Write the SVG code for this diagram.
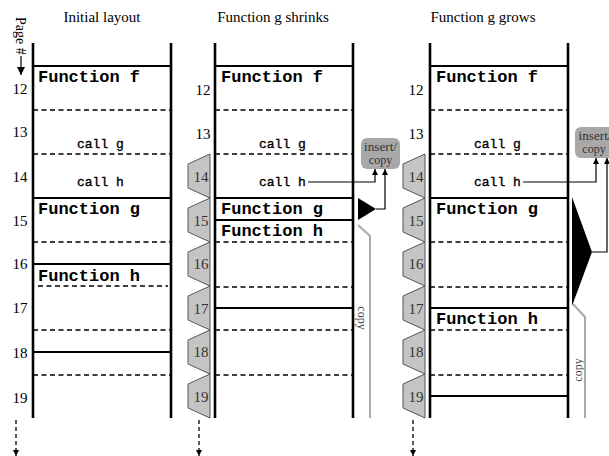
<svg xmlns="http://www.w3.org/2000/svg" width="609" height="456" viewBox="0 0 609 456">
  <style>
    .wall { stroke: #000; stroke-width: 2.6; fill: none; }
    .solid { stroke: #000; stroke-width: 2; fill: none; }
    .dash { stroke: #000; stroke-width: 1.4; stroke-dasharray: 5 3.5; fill: none; }
    .fn { font-family: "Liberation Mono", "Courier New", monospace; font-weight: bold; font-size: 17px; fill: #000; }
    .call { font-family: "Liberation Mono", "Courier New", monospace; font-size: 13px; fill: #000; stroke: #000; stroke-width: 0.35; }
    .num { font-family: "Liberation Serif", "Times New Roman", serif; font-size: 15px; fill: #000; text-anchor: middle; }
    .tabnum { font-family: "Liberation Serif", "Times New Roman", serif; font-size: 15px; fill: #333; text-anchor: middle; }
    .title { font-family: "Liberation Serif", "Times New Roman", serif; font-size: 15px; fill: #000; text-anchor: middle; }
    .tab { fill: #c4c4c4; stroke: #555; stroke-width: 1; }
    .box { fill: #a8a8a8; }
    .boxt { font-family: "Liberation Serif", "Times New Roman", serif; font-size: 12px; fill: #333; text-anchor: middle; }
    .copyt { font-family: "Liberation Serif", "Times New Roman", serif; font-size: 12px; fill: #444; text-anchor: middle; }
    .link { stroke: #000; stroke-width: 1.2; fill: none; }
    .gray { stroke: #aaa; stroke-width: 2; fill: none; }
    .down { stroke: #000; stroke-width: 1.3; stroke-dasharray: 4 3; fill: none; }
  </style>
  <defs>
    <marker id="tip" viewBox="0 0 6 6" refX="6" refY="3" markerWidth="6" markerHeight="6" markerUnits="userSpaceOnUse" orient="auto">
      <path d="M0,0 L6,3 L0,6 Z" fill="#000"/>
    </marker>
    <marker id="tipBig" viewBox="0 0 8 8" refX="8" refY="4" markerWidth="8" markerHeight="8" markerUnits="userSpaceOnUse" orient="auto">
      <path d="M0,0 L8,4 L0,8 Z" fill="#000"/>
    </marker>
    <!-- page tab: long edge against the column wall, notched on the left -->
    <path id="tab" d="M23,0 L1,10 L1,34 L23,44 Z"/>
  </defs>

  <!-- column headings -->
  <text class="title" x="102" y="22">Initial layout</text>
  <text class="title" x="273" y="22">Function g shrinks</text>
  <text class="title" x="483" y="22">Function g grows</text>

  <!-- page axis label -->
  <g id="page-axis">
    <text transform="translate(16,17) rotate(90)" font-family="Liberation Serif, Times New Roman, serif" font-size="14">Page #</text>
    <line x1="21" y1="56" x2="21" y2="75" class="link" marker-end="url(#tipBig)"/>
  </g>

  <!-- ===== Initial layout ===== -->
  <g id="initial">
    <g id="initial-frame">
      <line class="wall" x1="33" y1="43" x2="33" y2="418"/>
      <line class="wall" x1="171" y1="43" x2="171" y2="418"/>
      <line class="solid" x1="33" y1="66" x2="171" y2="66"/>
      <line class="dash" x1="33" y1="110" x2="171" y2="110"/>
      <line class="dash" x1="33" y1="154" x2="171" y2="154"/>
      <line class="solid" x1="33" y1="198" x2="171" y2="198"/>
      <line class="dash" x1="33" y1="242" x2="171" y2="242"/>
      <line class="solid" x1="33" y1="264" x2="171" y2="264"/>
      <line class="dash" x1="38" y1="286" x2="168" y2="286"/>
      <line class="dash" x1="33" y1="330" x2="171" y2="330"/>
      <line class="solid" x1="33" y1="352" x2="171" y2="352"/>
      <line class="dash" x1="33" y1="375" x2="171" y2="375"/>
    </g>
    <g id="initial-pages">
      <text class="num" x="20" y="94">12</text>
      <text class="num" x="20" y="137">13</text>
      <text class="num" x="20" y="182">14</text>
      <text class="num" x="20" y="226">15</text>
      <text class="num" x="20" y="269">16</text>
      <text class="num" x="20" y="313">17</text>
      <text class="num" x="20" y="358">18</text>
      <text class="num" x="20" y="403">19</text>
    </g>
    <g id="initial-f"><text class="fn" x="38" y="82">Function f</text></g>
    <g id="initial-call-g"><text class="call" x="77" y="148">call g</text></g>
    <g id="initial-call-h"><text class="call" x="77" y="186">call h</text></g>
    <g id="initial-g"><text class="fn" x="38" y="214">Function g</text></g>
    <g id="initial-h"><text class="fn" x="38" y="281">Function h</text></g>
  </g>

  <!-- ===== Function g shrinks ===== -->
  <g id="shrink">
    <g id="shrink-frame">
      <line class="wall" x1="215" y1="43" x2="215" y2="418"/>
      <line class="wall" x1="353" y1="43" x2="353" y2="418"/>
      <line class="solid" x1="215" y1="66" x2="353" y2="66"/>
      <line class="dash" x1="215" y1="110" x2="353" y2="110"/>
      <line class="dash" x1="215" y1="154" x2="353" y2="154"/>
      <line class="solid" x1="215" y1="198" x2="353" y2="198"/>
      <line class="solid" x1="215" y1="220" x2="353" y2="220"/>
      <line class="dash" x1="215" y1="242" x2="353" y2="242"/>
      <line class="dash" x1="215" y1="287" x2="353" y2="287"/>
      <line class="solid" x1="215" y1="308" x2="353" y2="308"/>
      <line class="dash" x1="215" y1="330" x2="353" y2="330"/>
      <line class="dash" x1="215" y1="375" x2="353" y2="375"/>
    </g>
    <g id="shrink-pages">
      <text class="num" x="203" y="95">12</text>
      <text class="num" x="203" y="139">13</text>
      <use href="#tab" class="tab" x="187" y="154"/>
      <use href="#tab" class="tab" x="187" y="198"/>
      <use href="#tab" class="tab" x="187" y="242"/>
      <use href="#tab" class="tab" x="187" y="286"/>
      <use href="#tab" class="tab" x="187" y="330"/>
      <use href="#tab" class="tab" x="187" y="374"/>
      <text class="tabnum" x="201" y="182">14</text>
      <text class="tabnum" x="201" y="226">15</text>
      <text class="tabnum" x="201" y="269">16</text>
      <text class="tabnum" x="201" y="314">17</text>
      <text class="tabnum" x="201" y="357">18</text>
      <text class="tabnum" x="201" y="402">19</text>
    </g>
    <g id="shrink-f"><text class="fn" x="221" y="82">Function f</text></g>
    <g id="shrink-call-g"><text class="call" x="259" y="148">call g</text></g>
    <g id="shrink-call-h"><text class="call" x="259" y="186">call h</text></g>
    <g id="shrink-g"><text class="fn" x="221" y="214">Function g</text></g>
    <g id="shrink-h"><text class="fn" x="221" y="236">Function h</text></g>
    <g id="shrink-insert">
      <rect class="box" x="361" y="138" width="39" height="31" rx="6"/>
      <text class="boxt" x="380.5" y="151" textLength="33" lengthAdjust="spacingAndGlyphs">insert/</text>
      <text class="boxt" x="380.5" y="164">copy</text>
    </g>
    <g id="shrink-marker">
      <polygon points="358,198 358,220 376,209" fill="#000"/>
    </g>
    <g id="shrink-copy">
      <text class="copyt" transform="translate(358,318) rotate(90)">copy</text>
    </g>
  </g>

  <!-- ===== Function g grows ===== -->
  <g id="grow">
    <g id="grow-frame">
      <line class="wall" x1="430" y1="43" x2="430" y2="418"/>
      <line class="wall" x1="568" y1="43" x2="568" y2="418"/>
      <line class="solid" x1="430" y1="66" x2="568" y2="66"/>
      <line class="dash" x1="430" y1="110" x2="568" y2="110"/>
      <line class="dash" x1="430" y1="154" x2="568" y2="154"/>
      <line class="solid" x1="430" y1="198" x2="568" y2="198"/>
      <line class="dash" x1="430" y1="242" x2="568" y2="242"/>
      <line class="dash" x1="430" y1="287" x2="568" y2="287"/>
      <line class="solid" x1="430" y1="308" x2="568" y2="308"/>
      <line class="dash" x1="430" y1="330" x2="568" y2="330"/>
      <line class="dash" x1="430" y1="375" x2="568" y2="375"/>
      <line class="solid" x1="430" y1="396" x2="568" y2="396"/>
    </g>
    <g id="grow-pages">
      <text class="num" x="416" y="95">12</text>
      <text class="num" x="416" y="139">13</text>
      <use href="#tab" class="tab" x="402" y="154"/>
      <use href="#tab" class="tab" x="402" y="198"/>
      <use href="#tab" class="tab" x="402" y="242"/>
      <use href="#tab" class="tab" x="402" y="286"/>
      <use href="#tab" class="tab" x="402" y="330"/>
      <use href="#tab" class="tab" x="402" y="374"/>
      <text class="tabnum" x="416" y="182">14</text>
      <text class="tabnum" x="416" y="226">15</text>
      <text class="tabnum" x="416" y="269">16</text>
      <text class="tabnum" x="416" y="314">17</text>
      <text class="tabnum" x="416" y="357">18</text>
      <text class="tabnum" x="416" y="402">19</text>
    </g>
    <g id="grow-f"><text class="fn" x="436" y="82">Function f</text></g>
    <g id="grow-call-g"><text class="call" x="474" y="148">call g</text></g>
    <g id="grow-call-h"><text class="call" x="474" y="186">call h</text></g>
    <g id="grow-g"><text class="fn" x="436" y="214">Function g</text></g>
    <g id="grow-h"><text class="fn" x="436" y="324">Function h</text></g>
    <g id="grow-insert">
      <rect class="box" x="575" y="127" width="42" height="31" rx="6"/>
      <text class="boxt" x="595" y="140" textLength="33" lengthAdjust="spacingAndGlyphs">insert/</text>
      <text class="boxt" x="594" y="153">copy</text>
    </g>
    <g id="grow-marker">
      <polygon points="572,197 572,306 592,252" fill="#000"/>
    </g>
    <g id="grow-copy">
      <text class="copyt" transform="translate(582,370) rotate(-90)">copy</text>
    </g>
  </g>

  <!-- ===== connectors ===== -->
  <g id="connectors">
    <polyline class="link" points="308,182 375,182 375,169" marker-end="url(#tip)"/>
    <polyline class="link" points="376,209 385,209 385,169" marker-end="url(#tip)"/>
    <polyline class="gray" points="358,225 370,236 370,418"/>

    <polyline class="link" points="523,182 596,182 596,158" marker-end="url(#tip)"/>
    <polyline class="link" points="592,252 607,252 607,158" marker-end="url(#tip)"/>
    <polyline class="gray" points="573,304 585,317 585,418"/>

    <line class="down" x1="16" y1="420" x2="16" y2="456" marker-end="url(#tip)"/>
    <line class="down" x1="199" y1="420" x2="199" y2="456" marker-end="url(#tip)"/>
    <line class="down" x1="413" y1="420" x2="413" y2="456" marker-end="url(#tip)"/>
  </g>
</svg>
